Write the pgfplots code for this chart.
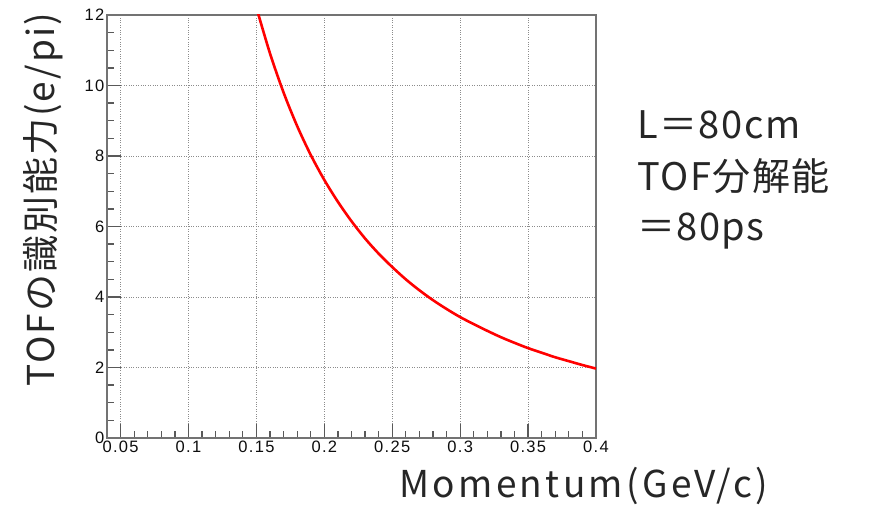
\documentclass[border=0pt]{standalone}
\usepackage{fontspec}
\setmainfont{Liberation Sans}
\newfontfamily\tickfont[LetterSpace=8]{Liberation Sans}
\newfontfamily\jp{Noto Sans CJK JP}
\newfontfamily\jpx[LetterSpace=9]{Noto Sans CJK JP}
\newfontfamily\jpy[LetterSpace=5.5]{Noto Sans CJK JP}
\newfontfamily\jpt[LetterSpace=4]{Noto Sans CJK JP}
\usepackage{pgfplots}
\pgfplotsset{compat=1.18}
\begin{document}
\begin{tikzpicture}
\path (0pt,0pt) rectangle (876pt,504pt);
\begin{axis}[
  at={(107pt,66pt)}, anchor=south west,
  scale only axis, width=489pt, height=423pt,
  xmin=0.04, xmax=0.4, ymin=0, ymax=12,
  xtick={0.05,0.1,0.15,0.2,0.25,0.3,0.35,0.4},
  ytick={0,2,4,6,8,10,12},
  minor x tick num=4, minor y tick num=3,
  tick align=inside, xtick pos=bottom, ytick pos=left,
  major tick length=14pt, minor tick length=7pt,
  grid=major, grid style={dotted, black!45, line width=0.9pt},
  axis line style={black!55, line width=1.5pt},
  tick style={black!65, line width=1.3pt},
  /pgf/number format/assume math mode=true,
  ticklabel style={font=\tickfont\fontsize{16.5}{16.5}\selectfont, text=black!95},
  xticklabel style={/pgf/number format/fixed, inner sep=2.5pt},
  yticklabel style={inner sep=2.5pt},
  xlabel={\jpx Momentum(GeV/c)},
  xlabel style={at={(axis description cs:0.975,-0.1395)}, anchor=base,
    font=\fontsize{37}{37}\selectfont, text=black!85},
  ylabel={\jpy TOFの識別能力(e/pi)},
  ylabel style={at={(axis description cs:-0.1309,0.5626)}, anchor=center,
    font=\fontsize{37}{37}\selectfont, text=black!85},
]
\addplot[red, line width=2.6pt, smooth] coordinates {
(0.150,12.21) (0.160,10.91) (0.170,9.80) (0.180,8.85) (0.190,8.03)
(0.200,7.32) (0.210,6.70) (0.220,6.15) (0.230,5.66) (0.240,5.23)
(0.250,4.85) (0.260,4.50) (0.270,4.19) (0.280,3.91) (0.290,3.66)
(0.300,3.43) (0.310,3.23) (0.320,3.04) (0.330,2.86) (0.340,2.70)
(0.350,2.55) (0.360,2.42) (0.370,2.29) (0.380,2.18) (0.390,2.07)
(0.400,1.97)};
\end{axis}
\begin{scope}[every node/.style={anchor=base west, inner sep=0pt,
    font=\jpt\fontsize{38}{38}\selectfont, text=black!85}]
\node at (637pt,366pt) {L＝80cm};
\node at (637pt,314pt) {TOF分解能};
\node at (637pt,264pt) {＝80ps};
\end{scope}
\end{tikzpicture}
\end{document}
